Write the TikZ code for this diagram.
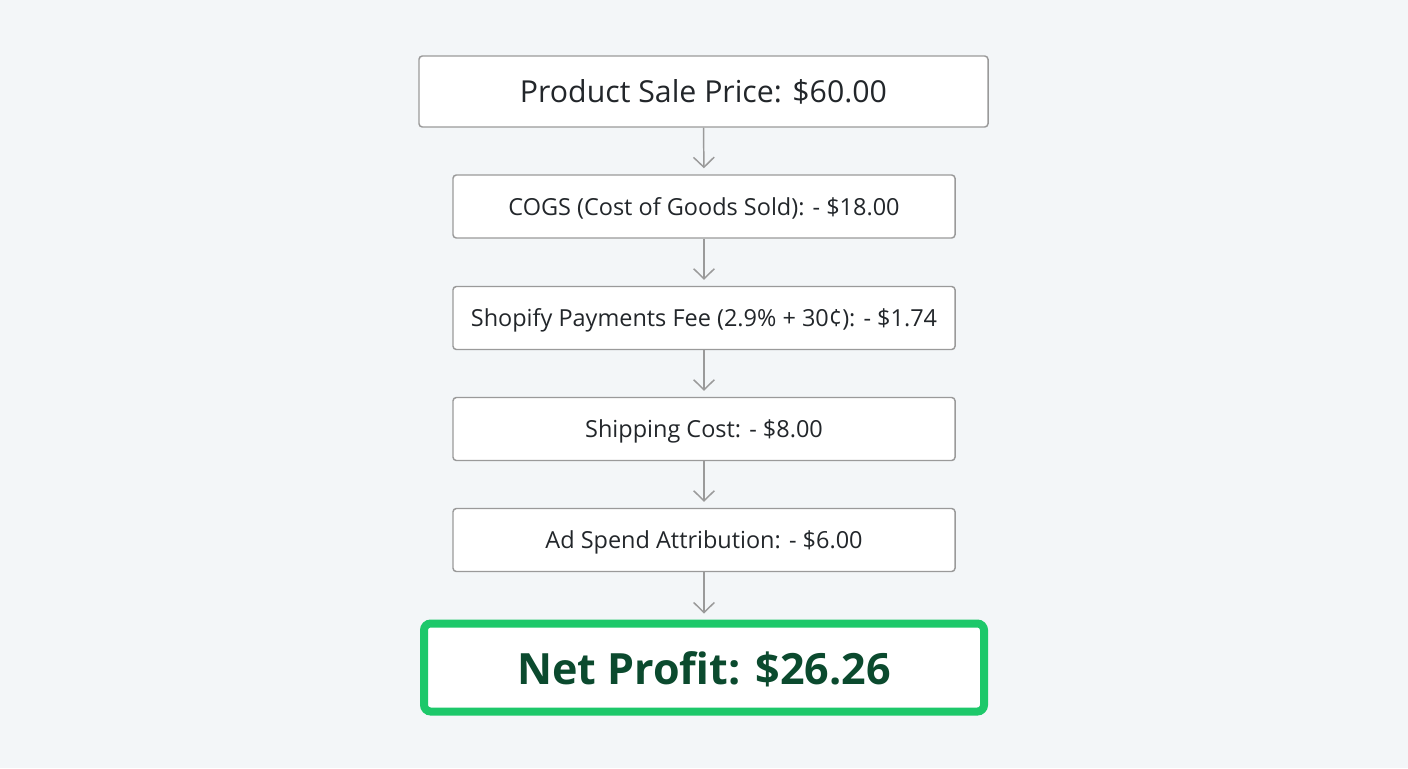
\documentclass[tikz,border=0pt]{standalone}
\usepackage{fontspec}
\setmainfont{Open Sans}
\usetikzlibrary{arrows.meta}
\definecolor{bg}{HTML}{F3F6F8}
\definecolor{boxline}{HTML}{9A9A9A}
\definecolor{txt}{HTML}{22262A}
\definecolor{netgreen}{HTML}{1DC86A}
\definecolor{netdark}{HTML}{0B4A2E}
\tikzset{
  stepbox/.style={draw=boxline, line width=1.1pt, fill=white, rounded corners=2.5pt,
    minimum width=376.5pt, minimum height=47.25pt, inner sep=0pt, text=txt,
    font=\fontsize{17.6}{20}\selectfont, text height=13.4pt, text depth=0pt},
  topbox/.style={stepbox, minimum width=426.75pt, minimum height=53.25pt,
    font=\fontsize{22.7}{26}\selectfont, text height=16.9pt},
  netbox/.style={draw=netgreen, line width=6pt, fill=white, rounded corners=5pt,
    minimum width=420pt, minimum height=66pt, inner sep=0pt, text=netdark,
    font=\bfseries\fontsize{32.3}{38}\selectfont, text height=25.2pt, text depth=0pt},
  flow/.style={draw=boxline, line width=1.1pt, shorten >=4.5pt,
    -{Straight Barb[length=7.5pt,width=15.5pt,line width=1.1pt]}}
}
\begin{document}
\begin{tikzpicture}[x=0.75pt,y=-0.75pt]
\fill[bg] (0,0) rectangle (1408,768);
\useasboundingbox (0,0) rectangle (1408,768);
\node[topbox] (b1) at (703.5,91.5) {Product Sale Price: \$60.00};
\node[stepbox] (b2) at (704,206.5) {COGS (Cost of Goods Sold): - \$18.00};
\node[stepbox] (b3) at (704,318) {Shopify Payments Fee (2.9\% + 30¢): - \$1.74};
\node[stepbox] (b4) at (704,429) {Shipping Cost: - \$8.00};
\node[stepbox] (b5) at (704,540) {Ad Spend Attribution: - \$6.00};
\node[netbox] (b6) at (704,667.5) {Net Profit: \$26.26};
\draw[flow] (b1.south) -- (b2.north);
\draw[flow] (b2.south) -- (b3.north);
\draw[flow] (b3.south) -- (b4.north);
\draw[flow] (b4.south) -- (b5.north);
\draw[flow] (b5.south) -- (b6.north);
\end{tikzpicture}
\end{document}
